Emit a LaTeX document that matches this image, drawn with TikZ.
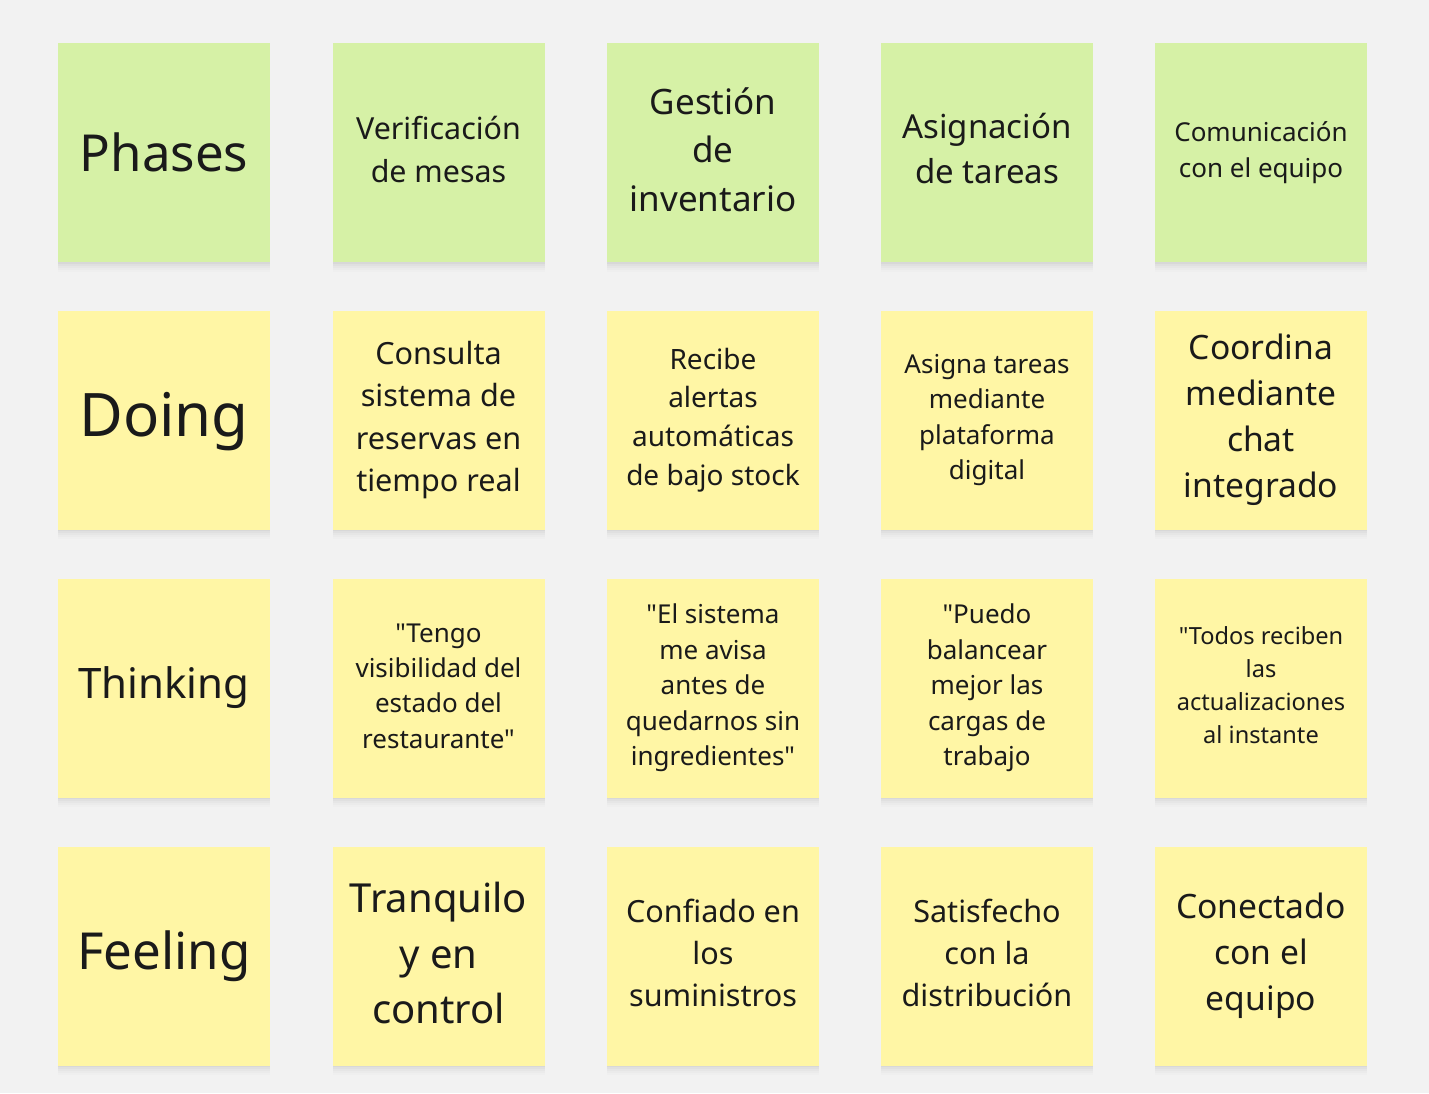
\documentclass[tikz,border=0pt]{standalone}
\usepackage{fontspec}
\setmainfont{Noto Sans}[Ligatures=TeXOff]
\usetikzlibrary{shadows}
\definecolor{bgc}{RGB}{242,242,242}
\definecolor{greenc}{RGB}{214,241,166}
\definecolor{yellowc}{RGB}{255,246,165}
\definecolor{txt}{RGB}{26,26,26}
\newcommand{\fs}[2]{\fontsize{#1}{#2}\selectfont}
\tikzset{
  note/.style={rectangle, minimum width=106pt, minimum height=109.5pt, inner sep=0pt,
    general shadow={shadow yshift=-0.8pt, fill=black, opacity=0.03},
    general shadow={shadow yshift=-1.8pt, fill=black, opacity=0.025},
    general shadow={shadow yshift=-2.8pt, fill=black, opacity=0.02},
    general shadow={shadow yshift=-3.8pt, fill=black, opacity=0.015},
    general shadow={shadow yshift=-4.8pt, fill=black, opacity=0.01}},
  gnote/.style={note, fill=greenc},
  ynote/.style={note, fill=yellowc},
  notetext/.style={align=center, text=txt, inner sep=0pt},
}
% \stick{style}{name}{position}{font}{text yshift}{text}
\newcommand{\stick}[6]{%
  \node[#1] (#2) at (#3) {};
  \node[notetext, font=#4] (#2t) at ([yshift=#5]#2.center) {#6};}
\begin{document}
\begin{tikzpicture}[x=0.5pt,y=-0.5pt]
\fill[bgc] (0,0) rectangle (1429,1093);
\useasboundingbox (0,0) rectangle (1429,1093);
% row 1
\stick{gnote}{p0}{164,152.5}{\fs{25.5}{30}}{0pt}{Phases}
\stick{gnote}{p1}{438.5,152.5}{\fs{15.2}{21.5}}{1.5pt}{Verificación\\de mesas}
\stick{gnote}{p2}{713,152.5}{\fs{17.5}{24.3}}{1.5pt}{Gestión\\de\\inventario}
\stick{gnote}{p3}{987,152.5}{\fs{16.5}{22.5}}{1.8pt}{Asignación\\de tareas}
\stick{gnote}{p4}{1261,152.5}{\fs{13}{18}}{0pt}{Comunicación\\con el equipo}
% row 2
\stick{ynote}{d0}{164,420}{\fs{30}{34}}{-1pt}{Doing}
\stick{ynote}{d1}{438.5,420}{\fs{15.3}{21.2}}{0pt}{Consulta\\sistema de\\reservas en\\tiempo real}
\stick{ynote}{d2}{713,420}{\fs{14}{19.3}}{0pt}{Recibe\\alertas\\automáticas\\de bajo stock}
\stick{ynote}{d3}{987,420}{\fs{13}{17.8}}{0pt}{Asigna tareas\\mediante\\plataforma\\digital}
\stick{ynote}{d4}{1261,420}{\fs{16.8}{23}}{0pt}{Coordina\\mediante\\chat\\integrado}
% row 3
\stick{ynote}{t0}{164,688}{\fs{21}{26}}{0pt}{Thinking}
\stick{ynote}{t1}{438.5,688}{\fs{13}{17.7}}{1pt}{"Tengo\\visibilidad del\\estado del\\restaurante"}
\stick{ynote}{t2}{713,688}{\fs{13}{17.7}}{0pt}{"El sistema\\me avisa\\antes de\\quedarnos sin\\ingredientes"}
\stick{ynote}{t3}{987,688}{\fs{13}{17.7}}{0pt}{"Puedo\\balancear\\mejor las\\cargas de\\trabajo}
\stick{ynote}{t4}{1261,688}{\fs{11.8}{16.5}}{1.5pt}{"Todos reciben\\las\\actualizaciones\\al instante}
% row 4
\stick{ynote}{f0}{164,956}{\fs{25.5}{30}}{0pt}{Feeling}
\stick{ynote}{f1}{438.5,956}{\fs{20}{27.7}}{1.5pt}{Tranquilo\\y en\\control}
\stick{ynote}{f2}{713,956}{\fs{15.3}{21.2}}{1.5pt}{Confiado en\\los\\suministros}
\stick{ynote}{f3}{987,956}{\fs{15.3}{21.2}}{1.5pt}{Satisfecho\\con la\\distribución}
\stick{ynote}{f4}{1261,956}{\fs{16.8}{23}}{0pt}{Conectado\\con el\\equipo}
\end{tikzpicture}
\end{document}
